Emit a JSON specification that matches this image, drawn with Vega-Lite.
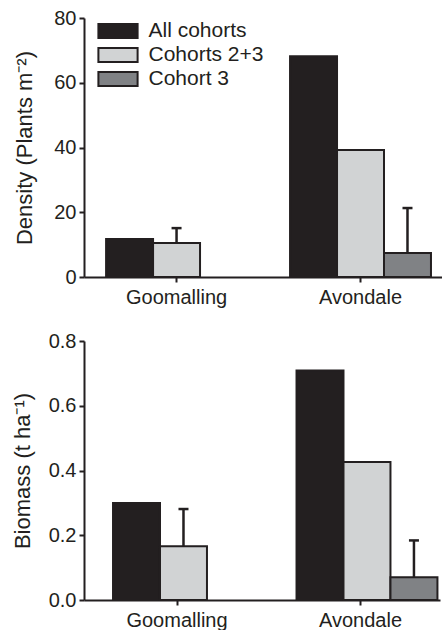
{
  "$schema": "https://vega.github.io/schema/vega-lite/v6.json",
  "padding": {"left": 10, "top": 8, "right": 0, "bottom": 0},
  "spacing": 24,
  "datasets": {
    "density": [
      {"site": "Goomalling", "cohort": "All cohorts", "value": 11.7},
      {"site": "Goomalling", "cohort": "Cohorts 2+3", "value": 10.5, "upper": 15.1},
      {"site": "Avondale", "cohort": "All cohorts", "value": 68.2},
      {"site": "Avondale", "cohort": "Cohorts 2+3", "value": 39.2},
      {"site": "Avondale", "cohort": "Cohort 3", "value": 7.4, "upper": 21.3}
    ],
    "biomass": [
      {"site": "Goomalling", "cohort": "All cohorts", "value": 0.3},
      {"site": "Goomalling", "cohort": "Cohorts 2+3", "value": 0.166, "upper": 0.281},
      {"site": "Avondale", "cohort": "All cohorts", "value": 0.709},
      {"site": "Avondale", "cohort": "Cohorts 2+3", "value": 0.426},
      {"site": "Avondale", "cohort": "Cohort 3", "value": 0.07, "upper": 0.184}
    ]
  },
  "config": {
    "font": "Liberation Sans",
    "view": {"stroke": null},
    "axis": {
      "grid": false,
      "domainColor": "#231f20",
      "domainWidth": 2,
      "tickColor": "#231f20",
      "tickWidth": 2,
      "tickSize": 5,
      "labelColor": "#231f20",
      "labelFontSize": 20,
      "labelFont": "Liberation Sans",
      "titleFont": "Liberation Sans",
      "titleFontSize": 22,
      "titleFontWeight": "normal",
      "titleColor": "#231f20"
    },
    "axisX": {"labelPadding": 5, "labelAngle": 0},
    "axisY": {"labelPadding": 3, "titleBaseline": "alphabetic"}
  },
  "resolve": {"scale": {"fill": "independent", "y": "independent"}, "legend": {"fill": "independent"}},
  "vconcat": [
    {
      "width": 358,
      "height": 259,
      "data": {"name": "density"},
      "encoding": {
        "x": {"field": "site", "type": "nominal", "sort": ["Goomalling", "Avondale"], "scale": {"paddingInner": 0.234, "paddingOuter": 0.09, "align": 0.667}, "axis": {"title": null}},
        "xOffset": {"field": "cohort", "type": "nominal", "scale": {"domain": ["All cohorts", "Cohorts 2+3", "Cohort 3"], "paddingInner": 0, "paddingOuter": 0}}
      },
      "layer": [
        {
          "mark": {"type": "bar", "stroke": "#231f20", "strokeWidth": 2},
          "encoding": {
            "y": {"field": "value", "type": "quantitative", "scale": {"domain": [0, 80]}, "axis": {"values": [0, 20, 40, 60, 80], "title": "Density (Plants m⁻²)", "titleX": -53}},
            "fill": {
              "field": "cohort", "type": "nominal",
              "scale": {"domain": ["All cohorts", "Cohorts 2+3", "Cohort 3"], "range": ["#231f20", "#d1d3d4", "#808285"]},
              "legend": {
                "title": null, "orient": "none", "legendX": 23.5, "legendY": 2.5, "padding": 0,
                "symbolType": "M-2.8,-1H2.8V1H-2.8Z", "symbolSize": 196,
                "symbolStrokeColor": "#231f20", "symbolStrokeWidth": 2, "symbolOpacity": 1,
                "labelFontSize": 21, "labelColor": "#231f20", "labelOffset": 20, "rowPadding": 1, "labelFont": "Liberation Sans"
              }
            }
          }
        },
        {
          "transform": [{"filter": "isValid(datum.upper)"}],
          "mark": {"type": "rule", "color": "#231f20", "strokeWidth": 2.5},
          "encoding": {"y": {"field": "value", "type": "quantitative"}, "y2": {"field": "upper"}}
        },
        {
          "transform": [{"filter": "isValid(datum.upper)"}],
          "mark": {"type": "tick", "color": "#231f20", "size": 10, "thickness": 2.5, "opacity": 1, "orient": "horizontal"},
          "encoding": {"y": {"field": "upper", "type": "quantitative"}}
        }
      ]
    },
    {
      "width": 356,
      "height": 259,
      "data": {"name": "biomass"},
      "encoding": {
        "x": {"field": "site", "type": "nominal", "sort": ["Goomalling", "Avondale"], "scale": {"paddingInner": 0.3025, "paddingOuter": 0.1213, "align": 0.652}, "axis": {"title": null}},
        "xOffset": {"field": "cohort", "type": "nominal", "scale": {"domain": ["All cohorts", "Cohorts 2+3", "Cohort 3"], "paddingInner": 0.22, "paddingOuter": 0}}
      },
      "layer": [
        {
          "mark": {"type": "bar", "stroke": "#231f20", "strokeWidth": 2},
          "encoding": {
            "y": {"field": "value", "type": "quantitative", "scale": {"domain": [0, 0.8]}, "axis": {"values": [0, 0.2, 0.4, 0.6, 0.8], "format": ".1f", "title": "Biomass (t ha⁻¹)", "titleX": -55}},
            "fill": {
              "field": "cohort", "type": "nominal",
              "scale": {"domain": ["All cohorts", "Cohorts 2+3", "Cohort 3"], "range": ["#231f20", "#d1d3d4", "#808285"]},
              "legend": null
            }
          }
        },
        {
          "transform": [{"filter": "isValid(datum.upper)"}],
          "mark": {"type": "rule", "color": "#231f20", "strokeWidth": 2.5},
          "encoding": {"y": {"field": "value", "type": "quantitative"}, "y2": {"field": "upper"}}
        },
        {
          "transform": [{"filter": "isValid(datum.upper)"}],
          "mark": {"type": "tick", "color": "#231f20", "size": 10, "thickness": 2.5, "opacity": 1, "orient": "horizontal"},
          "encoding": {"y": {"field": "upper", "type": "quantitative"}}
        }
      ]
    }
  ]
}
